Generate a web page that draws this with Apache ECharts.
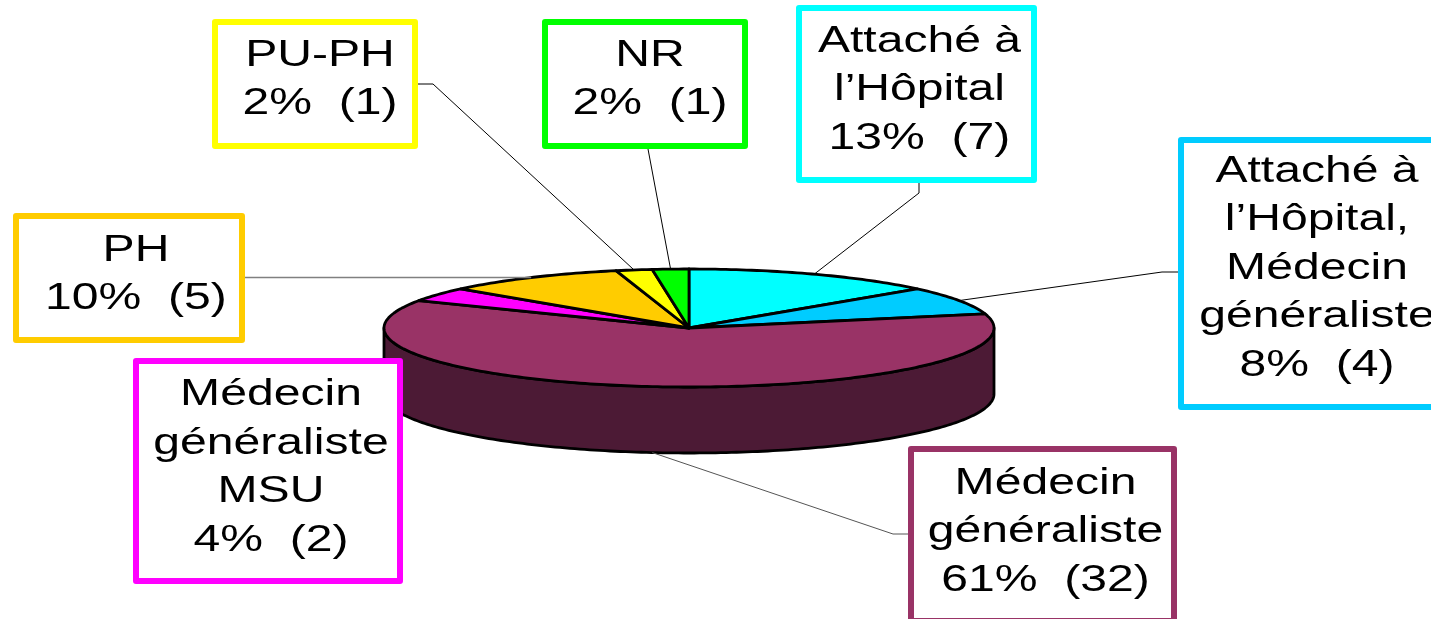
<!DOCTYPE html>
<html>
<head>
<meta charset="utf-8">
<script src="https://cdn.jsdelivr.net/npm/echarts@6/dist/echarts.min.js"></script>
<style>
html,body{margin:0;padding:0;background:#fff;}
#c{width:1431px;height:619px;}
</style>
</head>
<body>
<div id="c"></div>
<script>
// ---- data ----
const categories = [
  'Attaché à\nl’Hôpital',
  'Attaché à\nl’Hôpital,\nMédecin\ngénéraliste',
  'Médecin\ngénéraliste',
  'Médecin\ngénéraliste\nMSU',
  'PH',
  'PU-PH',
  'NR'
];
const counts = [7, 4, 32, 2, 5, 1, 1];
const percentLabels = ['13%', '8%', '61%', '4%', '10%', '2%', '2%'];

// ---- styles / layout ----
const sliceColors = ['#00FFFF', '#00CCFF', '#993366', '#FF00FF', '#FFCC00', '#FFFF00', '#00FF00'];
const sideColors  = ['#008080', '#006680', '#4C1A35', '#800080', '#806600', '#808000', '#008000'];
const pieLayout = { cx: 689, cy: 328, rx: 305, ry: 59, depth: 66 };
const labelLayout = [
  { box: [796, 5, 1037, 183],   path: [[919, 183], [919, 193]], dx: 3, dy: -4 },
  { box: [1178, 137, 1456, 410], path: [[1178, 272], [1162, 272]], dx: 0, dy: -5 },
  { box: [908, 446, 1177, 624], path: [[908, 534], [893, 534]], dx: 3, dy: -3, lineColor: '#555' },
  { box: [133, 358, 403, 584],  path: null, dx: 3, dy: -3 },
  { box: [13, 213, 245, 343],   path: [[245, 277.5]], dx: 7, dy: -3, lineColor: '#808080', lineWidth: 1.6 },
  { box: [212, 19, 418, 149],   path: [[418, 84], [433, 84]], dx: 5, dy: -4 },
  { box: [542, 19, 748, 149],   path: [[648, 149]], dx: 5, dy: -4 }
];
const GAP = '  ';

const total = counts.reduce((a, b) => a + b, 0);

function pt(deg, dz) {
  const r = deg * Math.PI / 180;
  return [pieLayout.cx + pieLayout.rx * Math.sin(r), pieLayout.cy - pieLayout.ry * Math.cos(r) + (dz || 0)];
}
function arc(s, e, dz) {
  const n = Math.max(2, Math.ceil((e - s) / 1));
  const pts = [];
  for (let k = 0; k <= n; k++) pts.push(pt(s + (e - s) * k / n, dz));
  return pts;
}

function renderItem(params, api) {
  const i = params.dataIndex;
  let before = 0;
  for (let k = 0; k < i; k++) before += counts[k];
  const v = api.value(0);
  const a0 = before / total * 360;
  const a1 = (before + v) / total * 360;
  const children = [];

  // front side wall
  const s = Math.max(a0, 90), e = Math.min(a1, 270);
  if (e > s) {
    const top = arc(s, e, 0);
    const bot = arc(s, e, pieLayout.depth).reverse();
    children.push({
      type: 'polygon', z2: 1,
      shape: { points: top.concat(bot) },
      style: { fill: sideColors[i], stroke: '#000', lineWidth: 2.8, lineJoin: 'round' }
    });
  }
  // top face
  children.push({
    type: 'polygon', z2: 2,
    shape: { points: [[pieLayout.cx, pieLayout.cy]].concat(arc(a0, a1, 0)) },
    style: { fill: sliceColors[i], stroke: '#000', lineWidth: 2.8, lineJoin: 'round' }
  });

  // label
  const L = labelLayout[i];
  const mid = (a0 + a1) / 2;
  const front = mid > 90 && mid < 270;
  const anchor = pt(mid, front ? pieLayout.depth : 0);
  if (L.path) {
    children.push({
      type: 'polyline', z2: 3,
      shape: { points: L.path.concat([anchor]) },
      style: { stroke: L.lineColor || '#000', lineWidth: L.lineWidth || 1, fill: null }
    });
  }
  const b = L.box;
  children.push({
    type: 'rect', z2: 4,
    shape: { x: b[0] + 3, y: b[1] + 3, width: b[2] - b[0] - 6, height: b[3] - b[1] - 6 },
    style: { fill: '#fff', stroke: sliceColors[i], lineWidth: 6, lineJoin: 'round' }
  });
  children.push({
    type: 'text', z2: 5,
    x: (b[0] + b[2]) / 2 + L.dx, y: (b[1] + b[3]) / 2 + L.dy,
    scaleX: 1.3,
    style: {
      text: categories[i] + '\n' + percentLabels[i] + GAP + '(' + v + ')',
      fontFamily: '"Liberation Sans", Arial, sans-serif',
      fontSize: 37, lineHeight: 48.5,
      align: 'center', verticalAlign: 'middle', fill: '#000'
    }
  });
  return { type: 'group', children: children };
}

const chart = echarts.init(document.getElementById('c'));
chart.setOption({
  backgroundColor: '#fff',
  animation: false,
  series: [{
    type: 'custom',
    coordinateSystem: 'none',
    renderItem: renderItem,
    data: counts.map(v => [v]),
    silent: true
  }]
});
</script>
</body>
</html>
